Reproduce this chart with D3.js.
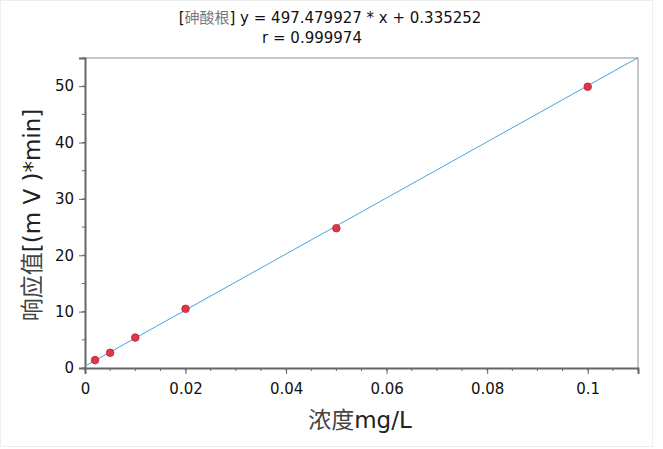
<!DOCTYPE html>
<html><head><meta charset="utf-8">
<script src="https://cdn.jsdelivr.net/npm/d3@7"></script>
<style>body{margin:0;background:#fff}</style>
</head><body>
<script>
const xVals = [0.002, 0.005, 0.01, 0.02, 0.05, 0.1];
const yVals = [1.4, 2.7, 5.4, 10.5, 24.8, 49.9];
const slope = 497.479927, intercept = 0.335252;
const xTicks = [0, 0.02, 0.04, 0.06, 0.08, 0.1];
const yTicks = [0, 10, 20, 30, 40, 50];

const W = 663, H = 449;
const m = {l: 85, r: 25, t: 58, b: 81};
const svg = d3.select("body").append("svg").attr("width", W).attr("height", H);
svg.append("rect").attr("x",0.5).attr("y",0.5).attr("width",652).attr("height",446).attr("fill","#fff").attr("stroke","#eeeeee");

const x = d3.scaleLinear().domain([0, 0.11]).range([m.l, W - m.r]);
const y = d3.scaleLinear().domain([0, 55]).range([H - m.b, m.t]);
const font = "Verdana, 'DejaVu Sans', sans-serif";

// frame
svg.append("line").attr("x1",x(0)).attr("x2",x(0.11)).attr("y1",y(55)).attr("y2",y(55)).attr("stroke","#c8c8c8").attr("stroke-width",2);
svg.append("line").attr("x1",x(0.11)).attr("x2",x(0.11)).attr("y1",y(55)).attr("y2",y(0)).attr("stroke","#c8c8c8").attr("stroke-width",2);

// minor ticks
const gx = svg.append("g").attr("transform",`translate(0,${y(0)})`);
gx.selectAll("line.minor").data(d3.range(0, 0.1101, 0.005)).enter().append("line")
  .attr("x1",d=>x(d)).attr("x2",d=>x(d)).attr("y1",0).attr("y2",3).attr("stroke","#666");
const xAxis = d3.axisBottom(x).tickValues(xTicks).tickFormat(d=>d===0?"0":d3.format("~g")(d)).tickSizeOuter(0).tickSize(6).tickPadding(9);
gx.call(xAxis);
gx.select(".domain").attr("stroke","#666").attr("stroke-width",2);
gx.selectAll(".tick line").attr("stroke","#666");
gx.selectAll("text").attr("font-family",font).attr("font-size",15).attr("fill","#111");

const gy = svg.append("g").attr("transform",`translate(${x(0)},0)`);
gy.selectAll("line.minor").data(d3.range(0, 55.1, 5)).enter().append("line")
  .attr("x1",0).attr("x2",-3).attr("y1",d=>y(d)).attr("y2",d=>y(d)).attr("stroke","#666");
const yAxis = d3.axisLeft(y).tickValues(yTicks).tickSizeOuter(0).tickSize(6).tickPadding(5);
gy.call(yAxis);
gy.select(".domain").attr("stroke","#666").attr("stroke-width",2);
gy.selectAll(".tick line").attr("stroke","#666");
gy.selectAll("text").attr("font-family",font).attr("font-size",15).attr("fill","#111");

// fit line
svg.append("line").attr("x1",x(0)).attr("y1",y(intercept)).attr("x2",x(0.11)).attr("y2",y(slope*0.11+intercept))
  .attr("stroke","#45a3dd").attr("stroke-width",1);

// points
svg.selectAll("circle.pt").data(xVals.map((v,i)=>[v,yVals[i]])).enter().append("circle")
  .attr("cx",d=>x(d[0])).attr("cy",d=>y(d[1])).attr("r",3.8)
  .attr("fill","#e23545").attr("stroke","#b02535").attr("stroke-width",0.8);

// title
const t1 = svg.append("text").attr("x",330).attr("y",23).attr("text-anchor","middle").attr("font-family",font).attr("font-size",15).attr("fill","#111");
t1.append("tspan").text("[");
t1.append("tspan").attr("fill","#777").attr("font-family","'Noto Sans CJK SC'").text("砷酸根");
t1.append("tspan").text("] y = 497.479927 * x + 0.335252");
svg.append("text").attr("x",312).attr("y",43).attr("text-anchor","middle").attr("font-family",font).attr("font-size",15).attr("fill","#111").text("r = 0.999974");

// axis titles
const xt = svg.append("text").attr("x",360).attr("y",428).attr("text-anchor","middle").attr("font-size",23).attr("fill","#222");
xt.append("tspan").attr("font-family","'Noto Sans CJK SC'").attr("fill","#444").text("浓度");
xt.append("tspan").attr("font-family",font).text("mg/L");

const yt = svg.append("text").attr("transform","translate(40,215) rotate(-90)").attr("text-anchor","middle").attr("font-size",23).attr("fill","#222");
yt.append("tspan").attr("font-family","'Noto Sans CJK SC'").attr("fill","#444").text("响应值");
yt.append("tspan").attr("font-family",font).text("[(m V )*min]");
</script>
</body></html>
